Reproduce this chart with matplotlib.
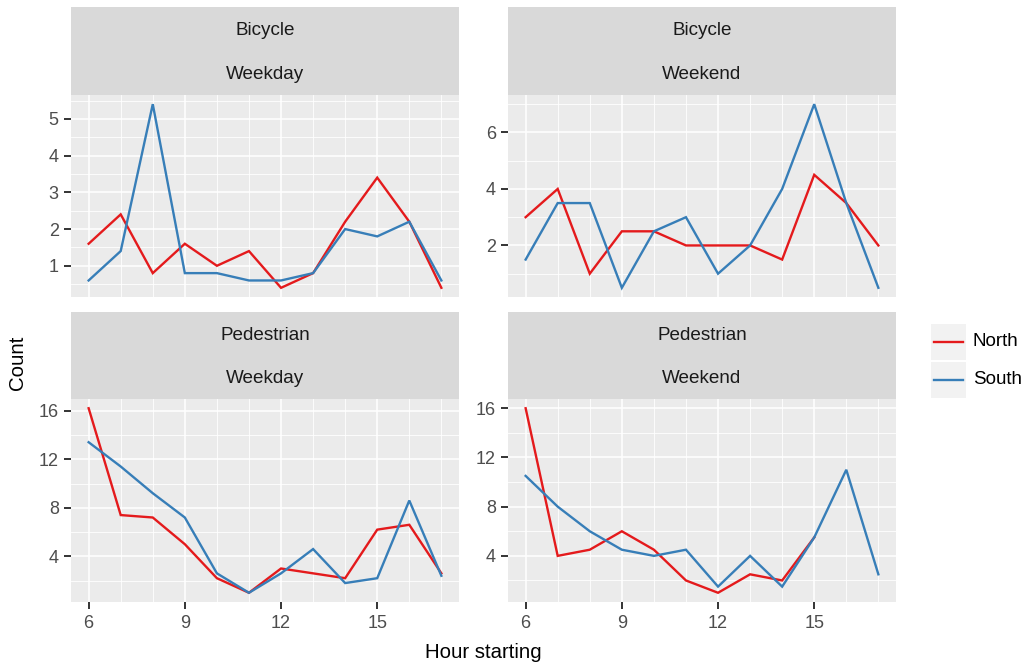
import matplotlib
matplotlib.use("Agg")
import matplotlib.pyplot as plt
from matplotlib.lines import Line2D
from matplotlib.patches import Rectangle
import numpy as np

plt.rcParams['font.family'] = ['Liberation Sans', 'DejaVu Sans']

hours = list(range(6, 18))

# Mean hourly counts by mode, day type and direction
bike_weekday_north = [1.6, 2.4, 0.8, 1.6, 1.0, 1.4, 0.4, 0.8, 2.2, 3.4, 2.2, 0.4]
bike_weekday_south = [0.6, 1.4, 5.4, 0.8, 0.8, 0.6, 0.6, 0.8, 2.0, 1.8, 2.2, 0.6]
bike_weekend_north = [3.0, 4.0, 1.0, 2.5, 2.5, 2.0, 2.0, 2.0, 1.5, 4.5, 3.5, 2.0]
bike_weekend_south = [1.5, 3.5, 3.5, 0.5, 2.5, 3.0, 1.0, 2.0, 4.0, 7.0, 3.5, 0.5]
ped_weekday_north = [16.2, 7.4, 7.2, 5.0, 2.2, 1.0, 3.0, 2.6, 2.2, 6.2, 6.6, 2.6]
ped_weekday_south = [13.4, 11.4, 9.2, 7.2, 2.6, 1.0, 2.6, 4.6, 1.8, 2.2, 8.6, 2.4]
ped_weekend_hours_north = [6, 7, 8, 9, 10, 11, 12, 13, 14, 15]
ped_weekend_north = [16.0, 4.0, 4.5, 6.0, 4.5, 2.0, 1.0, 2.5, 2.0, 5.5]
ped_weekend_south = [10.5, 8.0, 6.0, 4.5, 4.0, 4.5, 1.5, 4.0, 1.5, 5.5, 11.0, 2.5]

modes = ["Bicycle", "Bicycle", "Pedestrian", "Pedestrian"]
day_types = ["Weekday", "Weekend", "Weekday", "Weekend"]
x_ticks = [6, 9, 12, 15]

panels = [
    (hours, bike_weekday_north, hours, bike_weekday_south, [1, 2, 3, 4, 5]),
    (hours, bike_weekend_north, hours, bike_weekend_south, [2, 4, 6]),
    (hours, ped_weekday_north, hours, ped_weekday_south, [4, 8, 12, 16]),
    (ped_weekend_hours_north, ped_weekend_north, hours, ped_weekend_south, [4, 8, 12, 16]),
]

RED = "#E41A1C"
BLUE = "#377EB8"
PANEL_BG = "#EBEBEB"
STRIP_BG = "#D9D9D9"
W, H = 1029, 666

fig = plt.figure(figsize=(W / 100, H / 100), dpi=100)


def frac(x0, y0, x1, y1):
    return [x0 / W, 1 - y1 / H, (x1 - x0) / W, (y1 - y0) / H]


cols = [(71, 459), (508, 896)]
rows = [((7, 95), (95, 297)), ((312, 399), (399, 602))]

for i, (xn, yn, xs, ys, yticks) in enumerate(panels):
    r, c = divmod(i, 2)
    (sy0, sy1), (py0, py1) = rows[r]
    x0, x1 = cols[c]
    ax = fig.add_axes(frac(x0, py0, x1, py1))
    ax.set_facecolor(PANEL_BG)
    for s in ax.spines.values():
        s.set_visible(False)

    ax.plot(xn, yn, color=RED, lw=1.7, solid_joinstyle='miter', zorder=3)
    ax.plot(xs, ys, color=BLUE, lw=1.7, solid_joinstyle='miter', zorder=3)

    allv = list(yn) + list(ys)
    lo, hi = min(allv), max(allv)
    pad = (hi - lo) * 0.05

    step = yticks[1] - yticks[0]
    minor_y = np.arange(yticks[0] - step / 2, hi + pad + step, step)
    ax.set_yticks(yticks)
    ax.set_yticks(minor_y, minor=True)
    ax.set_xticks(x_ticks)
    ax.set_xticks([h for h in hours if h not in x_ticks], minor=True)

    ax.set_ylim(lo - pad, hi + pad)
    ax.set_xlim(6 - 11 * 0.05, 17 + 11 * 0.05)

    ax.grid(which='major', color='white', lw=1.1, zorder=1)
    ax.grid(which='minor', color='white', lw=0.6, zorder=1)
    ax.set_axisbelow(True)

    ax.tick_params(axis='both', which='major', length=4.8, width=1.4,
                   color='#333333', labelcolor='#4D4D4D', labelsize=13)
    ax.tick_params(axis='y', which='major', pad=4)
    ax.tick_params(axis='x', which='major', pad=4.5)
    ax.tick_params(axis='both', which='minor', length=0)
    ax.set_yticklabels([str(t) for t in yticks])
    if r == 0:
        ax.tick_params(axis='x', which='major', length=0, labelbottom=False)
    else:
        ax.set_xticklabels([str(t) for t in x_ticks])

    sax = fig.add_axes(frac(x0, sy0, x1, sy1))
    sax.set_facecolor(STRIP_BG)
    sax.set_xticks([])
    sax.set_yticks([])
    for s in sax.spines.values():
        s.set_visible(False)
    sax.text(0.5, 0.73, modes[i], ha='center', va='center', fontsize=13.6,
             color='#1A1A1A', transform=sax.transAxes)
    sax.text(0.5, 0.23, day_types[i], ha='center', va='center', fontsize=13.6,
             color='#1A1A1A', transform=sax.transAxes)

fig.text(483.5 / W, 1 - 652 / H, "Hour starting", ha='center', va='center', fontsize=14.7)
fig.text(18 / W, 1 - 363 / H, "Count", ha='center', va='center', rotation=90, fontsize=14.7)

# Legend keys
lax = fig.add_axes([0, 0, 1, 1], facecolor='none')
lax.set_xlim(0, W)
lax.set_ylim(H, 0)
lax.axis('off')
for (ky0, ky1), col, lab in [((324, 360), RED, "North"), ((362, 398), BLUE, "South")]:
    lax.add_patch(Rectangle((931, ky0), 35, ky1 - ky0, facecolor='#F2F2F2', edgecolor='none'))
    lax.add_line(Line2D([934, 963], [(ky0 + ky1) / 2] * 2, color=col, lw=1.7))
    lax.text(973, (ky0 + ky1) / 2, lab, ha='left', va='center', fontsize=13.5, color='black')

fig.savefig("out.png", dpi=100)
